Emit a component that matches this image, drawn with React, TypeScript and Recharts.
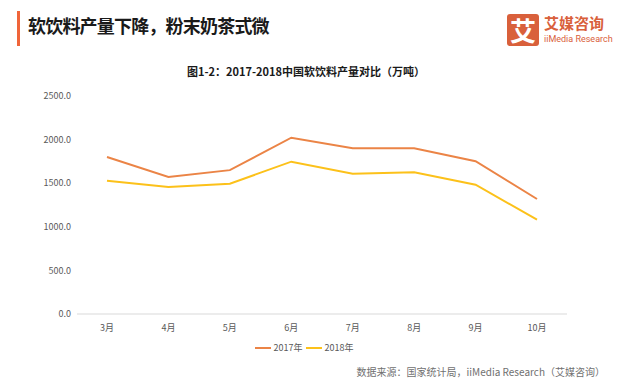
import { Line, LineChart, XAxis, YAxis } from "recharts";

const months = ["3月", "4月", "5月", "6月", "7月", "8月", "9月", "10月"];
const output2017 = [1800, 1571, 1650, 2022, 1900, 1900, 1752, 1319];
const output2018 = [1529, 1456, 1494, 1747, 1609, 1625, 1483, 1081];
const yTicks = [0, 500, 1000, 1500, 2000, 2500];

const SERIES = [
  { key: "y2017", name: "2017年", color: "#EB8446" },
  { key: "y2018", name: "2018年", color: "#FCC11A" },
];

const FONT = '"Noto Sans CJK SC", "Noto Sans", sans-serif';

const data = months.map((m, i) => ({
  month: m,
  y2017: output2017[i],
  y2018: output2018[i],
}));

function LegendBody() {
  return (
    <div
      style={{
        position: "absolute",
        left: 0,
        width: 608,
        top: 341,
        display: "flex",
        justifyContent: "center",
        gap: 3,
        fontSize: 9,
        lineHeight: "14px",
        color: "#595959",
      }}
    >
      {SERIES.map((s) => (
        <span key={s.key} style={{ display: "flex", alignItems: "center" }}>
          <span
            style={{
              display: "inline-block",
              width: 16,
              height: 2,
              background: s.color,
              marginRight: 3,
            }}
          />
          {s.name}
        </span>
      ))}
    </div>
  );
}

export default function App() {
  return (
    <div
      style={{
        position: "absolute",
        left: 0,
        top: 0,
        width: 619,
        height: 382,
        background: "#fff",
        fontFamily: FONT,
        overflow: "hidden",
      }}
    >
      {/* header */}
      <div
        style={{
          position: "absolute",
          left: 17,
          top: 11,
          width: 3,
          height: 35,
          background: "#F0653A",
        }}
      />
      <div
        style={{
          position: "absolute",
          left: 28,
          top: 13,
          fontSize: 18,
          fontWeight: 700,
          color: "#1a1a1a",
          letterSpacing: -0.8,
          lineHeight: "24px",
          whiteSpace: "nowrap",
        }}
      >
        软饮料产量下降，粉末奶茶式微
      </div>
      <div
        style={{
          position: "absolute",
          left: 507,
          top: 14,
          width: 32,
          height: 32,
          background: "#D9603B",
          borderRadius: 3,
          color: "#fff",
          fontSize: 26,
          fontWeight: 700,
          lineHeight: "32px",
          textAlign: "center",
        }}
      >
        艾
      </div>
      <div
        style={{
          position: "absolute",
          left: 544,
          top: 13,
          fontSize: 15,
          fontWeight: 700,
          color: "#D9603B",
          lineHeight: "20px",
          whiteSpace: "nowrap",
        }}
      >
        艾媒咨询
      </div>
      <div
        style={{
          position: "absolute",
          left: 544,
          top: 33,
          fontSize: 9,
          color: "#D9603B",
          lineHeight: "12px",
          whiteSpace: "nowrap",
          fontFamily: '"Liberation Sans Narrow", "Roboto", sans-serif',
        }}
      >
        iiMedia Research
      </div>

      {/* chart title */}
      <div
        style={{
          position: "absolute",
          left: 0,
          width: 612,
          top: 64,
          textAlign: "center",
          fontSize: 11,
          fontWeight: 700,
          color: "#1a1a1a",
          lineHeight: "15px",
        }}
      >
        图1-2：2017-2018中国软饮料产量对比（万吨）
      </div>

      <div style={{ position: "absolute", left: 0, top: 0 }}>
        <LineChart
          width={619}
          height={382}
          data={data}
          margin={{ top: 96, right: 52, bottom: 38, left: 17 }}
        >
          <XAxis
            dataKey="month"
            height={30}
            padding={{ left: 30, right: 30 }}
            tick={{ fill: "#595959", fontSize: 9, fontFamily: FONT }}
            tickLine={false}
            axisLine={{ stroke: "#D9D9D9" }}
            tickMargin={5}
            interval={0}
          />
          <YAxis
            width={60}
            domain={[0, 2500]}
            ticks={yTicks}
            tickFormatter={(v: number) => v.toFixed(1)}
            tick={{ fill: "#595959", fontSize: 9, fontFamily: FONT }}
            tickLine={false}
            axisLine={false}
            tickSize={0}
            tickMargin={6}
          />
          {SERIES.map((s) => (
            <Line
              key={s.key}
              type="linear"
              dataKey={s.key}
              name={s.name}
              stroke={s.color}
              strokeWidth={2}
              dot={false}
              activeDot={false}
              isAnimationActive={false}
            />
          ))}
        </LineChart>
      </div>

      <LegendBody />

      {/* source */}
      <div
        style={{
          position: "absolute",
          right: 14,
          top: 365,
          fontSize: 10,
          color: "#707070",
          lineHeight: "14px",
          whiteSpace: "nowrap",
        }}
      >
        数据来源：国家统计局，iiMedia Research（艾媒咨询）
      </div>
    </div>
  );
}
